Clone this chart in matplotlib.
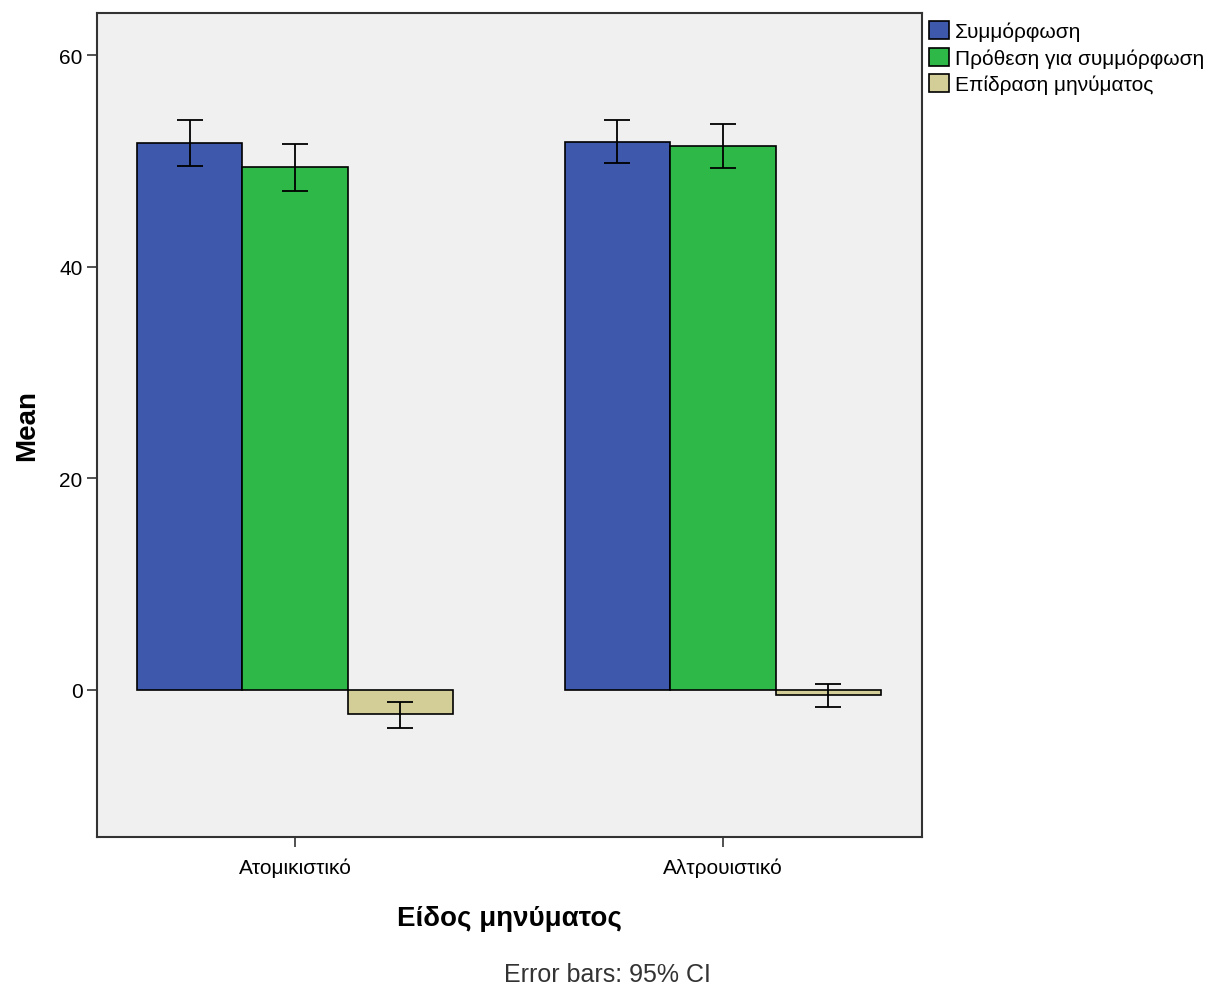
import numpy as np
import matplotlib.pyplot as plt
from matplotlib.patches import Patch

plt.rcParams['font.family'] = ['Liberation Sans', 'DejaVu Sans']

categories = ['Ατομικιστικό', 'Αλτρουιστικό']
series = ['Συμμόρφωση', 'Πρόθεση για συμμόρφωση', 'Επίδραση μηνύματος']
colors = ['#3e58ac', '#2eb848', '#d3ce97']

means = [
    [51.7, 51.8],   # Συμμόρφωση
    [49.4, 51.4],   # Πρόθεση
    [-2.3, -0.5],   # Επίδραση
]
ci_low = [
    [49.5, 49.8],
    [47.2, 49.3],
    [-3.57, -1.6],
]
ci_high = [
    [53.9, 53.9],
    [51.6, 53.5],
    [-1.17, 0.57],
]

fig = plt.figure(figsize=(12.13, 9.87), dpi=100)
ax = fig.add_axes([0.080, 0.151, 0.680, 0.835])
ax.set_facecolor('#f0f0f0')

x = np.arange(len(categories))
w = 0.2465
for i, name in enumerate(series):
    pos = x + (i - 1) * w
    m = np.array(means[i])
    lo = m - np.array(ci_low[i])
    hi = np.array(ci_high[i]) - m
    ax.bar(pos, m, width=w, color=colors[i], edgecolor='black', linewidth=1.2, zorder=2)
    ax.errorbar(pos, m, yerr=[lo, hi], fmt='none', ecolor='black', elinewidth=1.3,
                capsize=9.5, capthick=1.3, zorder=3)

ax.set_xlim(-0.4626, 1.465)
ax.set_ylim(-13.9, 64.0)
ax.set_yticks([0, 20, 40, 60])
ax.set_xticks(x)
ax.set_xticklabels(categories)
ax.tick_params(axis='both', labelsize=15, length=7, width=1.2, direction='out', color='#333333')
ax.tick_params(axis='x', pad=8)
for s in ax.spines.values():
    s.set_linewidth(1.5)
    s.set_color('#333333')

ax.set_ylabel('Mean', fontsize=20, fontweight='bold', labelpad=14)
ax.set_xlabel('Είδος μηνύματος', fontsize=20, fontweight='bold', labelpad=20)

handles = [Patch(facecolor=c, edgecolor='black', linewidth=1.2) for c in colors]
fig.legend(handles, series, loc='upper left', bbox_to_anchor=(0.759, 0.986), frameon=False,
           fontsize=15, handlelength=0.95, handleheight=0.95, handletextpad=0.3,
           labelspacing=0.3, borderaxespad=0)

fig.text(0.501, 0.0, 'Error bars: 95% CI', ha='center', va='bottom', fontsize=18, color='#333333')

fig.savefig('out.png', dpi=100)
